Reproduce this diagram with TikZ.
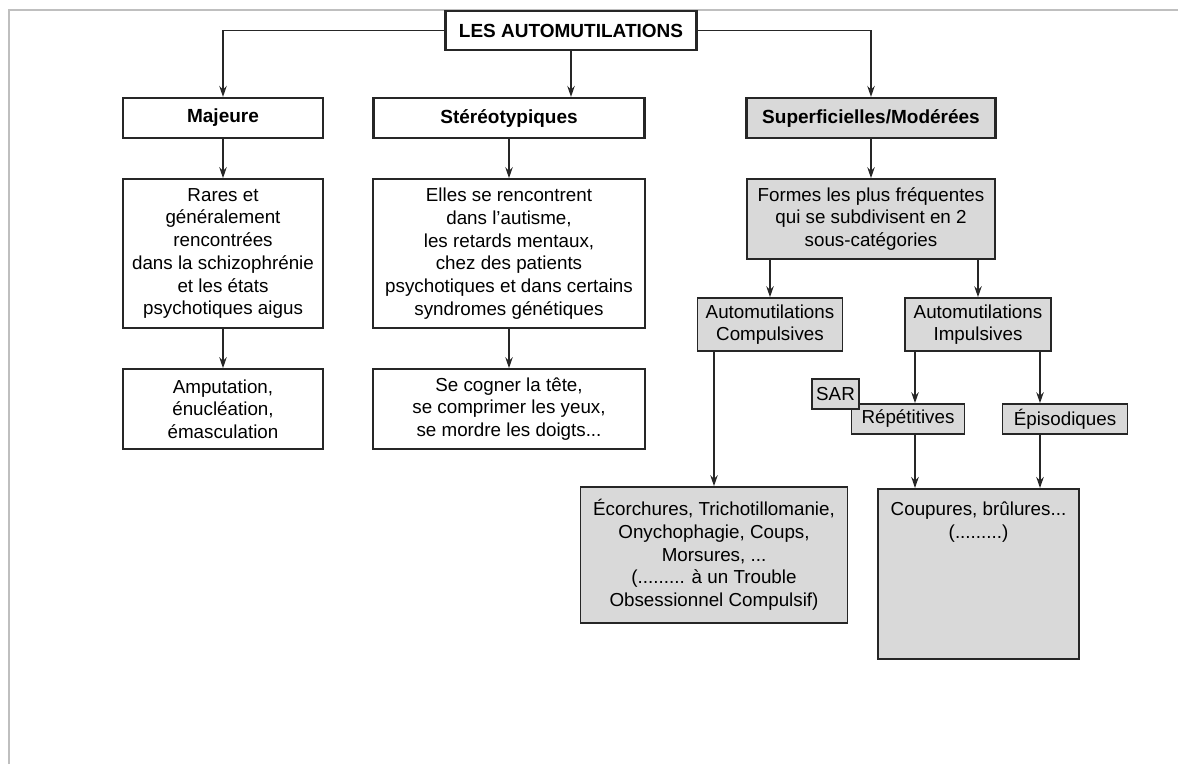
\documentclass[tikz,border=0pt]{standalone}
\usepackage{fontspec}
\setmainfont{Liberation Sans}
\usetikzlibrary{arrows.meta,calc}
\begin{document}
\begin{tikzpicture}[x=1pt,y=-1pt,
  box/.style={draw=black!85, line width=1.7pt, align=center, inner sep=0pt,
    font=\fontsize{18.8}{22.7}\selectfont},
  topbox/.style={box, line width=2.2pt, font=\fontsize{19}{22.7}\selectfont\bfseries},
  shaded/.style={fill=gray!30},
  arr/.style={-{Stealth[length=11pt,width=7.5pt]}, line width=1.6pt, draw=black!85},
  frame/.style={draw=gray!50, line width=1.2pt},
]
\useasboundingbox (0,0) rectangle (1178,764);
\draw[frame] (9,764) -- (9,10) -- (1178,10);

% top level
\node[topbox, minimum width=251, minimum height=39] (title) at (571,30.5) {LES AUTOMUTILATIONS};
\node[topbox, minimum width=200, minimum height=40] (maj) at (223,118) {Majeure};
\node[topbox, minimum width=271, minimum height=40] (ste) at (509,118) {Stéréotypiques};
\node[topbox, shaded, minimum width=249, minimum height=40] (sup) at (871,118) {Superficielles/Modérées};

% left column
\node[box, minimum width=200, minimum height=149] (rares) at (223,253.5)
  {Rares et\\généralement\\rencontrées\\dans la schizophrénie\\et les états\\psychotiques aigus};
\node[box, minimum width=200, minimum height=80] (amp) at (223,409)
  {Amputation,\\énucléation,\\émasculation};

% middle column
\node[box, minimum width=272, minimum height=149] (elles) at (509,253.5)
  {Elles se rencontrent\\dans l'autisme,\\les retards mentaux,\\chez des patients\\psychotiques et dans certains\\syndromes génétiques};
\node[box, minimum width=272, minimum height=80] (cogner) at (509,409)
  {Se cogner la tête,\\se comprimer les yeux,\\se mordre les doigts...};

% right column
\node[box, shaded, minimum width=248, minimum height=80] (formes) at (871,219)
  {Formes les plus fréquentes\\qui se subdivisent en 2\\sous-catégories};
\node[box, shaded, minimum width=145, minimum height=53] (comp) at (770,324.5)
  {Automutilations\\Compulsives};
\node[box, shaded, minimum width=146, minimum height=53] (imp) at (978,324.5)
  {Automutilations\\Impulsives};
\node[box, shaded, minimum width=113, minimum height=30] (rep) at (908,419) {Répétitives};
\node[box, shaded, minimum width=47, minimum height=30] (sar) at (835.5,394) {SAR};
\node[box, shaded, minimum width=125, minimum height=30] (epi) at (1065,419) {Épisodiques};
\node[box, shaded, minimum width=267, minimum height=136] (ecor) at (714,555)
  {Écorchures, Trichotillomanie,\\Onychophagie, Coups,\\Morsures, ...\\(......... à un Trouble\\Obsessionnel Compulsif)};
\node[box, shaded, inner sep=6pt, anchor=north] (coup) at (978.5,488)
  {\parbox[t][158pt][t]{189pt}{\centering\rule{0pt}{21pt}Coupures, brûlures...\\(.........)}};

% connectors
\draw[arr] (title.west) -| (maj.north);
\draw[arr] (title.south) -- (title.south |- ste.north);
\draw[arr] (title.east) -| (sup.north);
\draw[arr] (maj.south) -- (rares.north);
\draw[arr] (rares.south) -- (amp.north);
\draw[arr] (ste.south) -- (ste.south |- elles.north);
\draw[arr] (elles.south) -- (cogner.north);
\draw[arr] (sup.south) -- (sup.south |- formes.north);
\draw[arr] (formes.south -| comp.north) -- (comp.north);
\draw[arr] (formes.south -| imp.north) -- (imp.north);
\draw[arr] (comp.south -| ecor.north) -- (ecor.north);
\draw[arr] ([xshift=7]imp.south -| rep.north) -- ([xshift=7]rep.north);
\draw[arr] ([xshift=-25]imp.south -| epi.north) -- ([xshift=-25]epi.north);
\draw[arr] ([xshift=7]rep.south) -- ([xshift=7]rep.south |- coup.north);
\draw[arr] ([xshift=-25]epi.south) -- ([xshift=-25]epi.south |- coup.north);
\end{tikzpicture}
\end{document}
